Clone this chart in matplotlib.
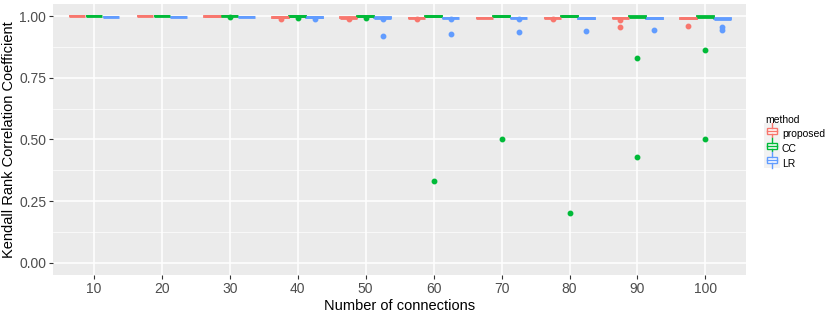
import matplotlib
matplotlib.use("Agg")
import matplotlib.pyplot as plt
from matplotlib.legend_handler import HandlerBase
from matplotlib.patches import Rectangle
from matplotlib.lines import Line2D

plt.rcParams["font.family"] = ["Liberation Sans", "DejaVu Sans"]

# données
connexions = ["10", "20", "30", "40", "50", "60", "70", "80", "90", "100"]
methodes = ["proposed", "CC", "LR"]
couleurs = ["#F8766D", "#00BA38", "#619CFF"]

med = {
    "proposed": [1.0, 1.0, 1.0, 0.996, 0.995, 0.994, 0.994, 0.993, 0.993, 0.992],
    "CC":       [1.0, 1.0, 1.0, 1.0, 1.0, 1.0, 1.0, 1.0, 0.999, 0.999],
    "LR":       [0.998, 0.998, 0.997, 0.996, 0.995, 0.994, 0.993, 0.992, 0.992, 0.991],
}
q1 = {
    "proposed": [1.0, 1.0, 0.999, 0.995, 0.994, 0.993, 0.993, 0.992, 0.992, 0.991],
    "CC":       [1.0, 1.0, 1.0, 0.999, 0.999, 0.999, 0.999, 0.999, 0.998, 0.998],
    "LR":       [0.998, 0.997, 0.996, 0.995, 0.994, 0.993, 0.992, 0.991, 0.991, 0.990],
}
q3 = {
    "proposed": [1.0, 1.0, 1.0, 0.997, 0.996, 0.995, 0.995, 0.994, 0.994, 0.993],
    "CC":       [1.0, 1.0, 1.0, 1.0, 1.0, 1.0, 1.0, 1.0, 1.0, 1.0],
    "LR":       [0.999, 0.998, 0.998, 0.997, 0.996, 0.995, 0.994, 0.993, 0.993, 0.992],
}
aberrants = {
    "proposed": [[], [], [], [0.99], [0.99], [0.99], [], [0.99], [0.985, 0.955], [0.959]],
    "CC":       [[], [], [0.999], [0.995], [0.995], [0.333], [0.5], [0.2], [0.83, 0.43], [0.862, 0.5]],
    "LR":       [[], [], [], [0.99], [0.99, 0.919], [0.99, 0.927], [0.99, 0.935], [0.94], [0.943], [0.955, 0.945]],
}

fig = plt.figure(figsize=(8.3, 3.11), dpi=100)
ax = fig.add_axes([0.064, 0.116, 0.835, 0.871])
ax.set_facecolor("#EBEBEB")

largeur = 0.25
for k, (m, c) in enumerate(zip(methodes, couleurs)):
    stats = []
    for i in range(len(connexions)):
        stats.append(dict(med=med[m][i], q1=q1[m][i], q3=q3[m][i],
                          whislo=min(q1[m][i], med[m][i]), whishi=q3[m][i],
                          fliers=aberrants[m][i]))
    pos = [i + 1 + (k - 1) * largeur for i in range(len(connexions))]
    ax.bxp(stats, positions=pos, widths=largeur * 0.98, patch_artist=True,
           boxprops=dict(facecolor="white", edgecolor=c, linewidth=1.3),
           medianprops=dict(color=c, linewidth=2.0),
           whiskerprops=dict(color=c, linewidth=1.0),
           capprops=dict(linewidth=0),
           flierprops=dict(marker="o", markerfacecolor=c, markeredgecolor=c,
                           markersize=3.2, linestyle="none"),
           manage_ticks=False, zorder=3)

ax.set_xlim(0.4, len(connexions) + 0.6)
ax.set_ylim(-0.05, 1.05)
ax.set_xticks(range(1, len(connexions) + 1))
ax.set_xticklabels(connexions)
ax.set_yticks([0, 0.25, 0.5, 0.75, 1.0])
ax.set_yticklabels(["0.00", "0.25", "0.50", "0.75", "1.00"])
ax.set_yticks([0.125, 0.375, 0.625, 0.875], minor=True)
ax.grid(True, which="major", color="white", linewidth=1.1, zorder=0)
ax.grid(True, which="minor", axis="y", color="white", linewidth=0.5, zorder=0)
ax.set_axisbelow(True)
for s in ax.spines.values():
    s.set_visible(False)
ax.tick_params(which="major", length=3, color="#333333", labelcolor="#4D4D4D",
               labelsize=10, pad=2)
ax.tick_params(which="minor", length=0)
ax.set_xlabel("Number of connections", fontsize=10.5, labelpad=2)
ax.set_ylabel("Kendall Rank Correlation Coefficient", fontsize=10.5)
ax.yaxis.set_label_coords(-0.053, 0.5)


class CleBoite(HandlerBase):
    def create_artists(self, legend, orig, xd, yd, w, h, fontsize, trans):
        c = orig.get_edgecolor()
        fond = Rectangle((xd - 1, yd - 2), w + 2, h + 4, facecolor="#F2F2F2",
                         edgecolor="none", transform=trans)
        boite = Rectangle((xd + w * 0.1, yd + h * 0.2), w * 0.8, h * 0.6,
                          facecolor="white", edgecolor=c, linewidth=1.0, transform=trans)
        mediane = Line2D([xd + w * 0.1, xd + w * 0.9], [yd + h / 2] * 2, color=c,
                         linewidth=1.0, transform=trans)
        bas = Line2D([xd + w / 2] * 2, [yd - 2, yd + h * 0.2], color=c, linewidth=1.0, transform=trans)
        haut = Line2D([xd + w / 2] * 2, [yd + h * 0.8, yd + h + 2], color=c, linewidth=1.0, transform=trans)
        return [fond, boite, mediane, bas, haut]


poignees = [Rectangle((0, 0), 1, 1, facecolor="white", edgecolor=c) for c in couleurs]
leg = fig.legend(poignees, methodes, handler_map={Rectangle: CleBoite()},
                 loc="upper left", bbox_to_anchor=(0.917, 0.645), frameon=False,
                 title="method", fontsize=7.5, title_fontsize=7.5, handlelength=1.3,
                 handleheight=1.1, handletextpad=0.3, labelspacing=0.4, borderaxespad=0)
leg._legend_box.align = "left"

fig.savefig("out.png", dpi=100)
